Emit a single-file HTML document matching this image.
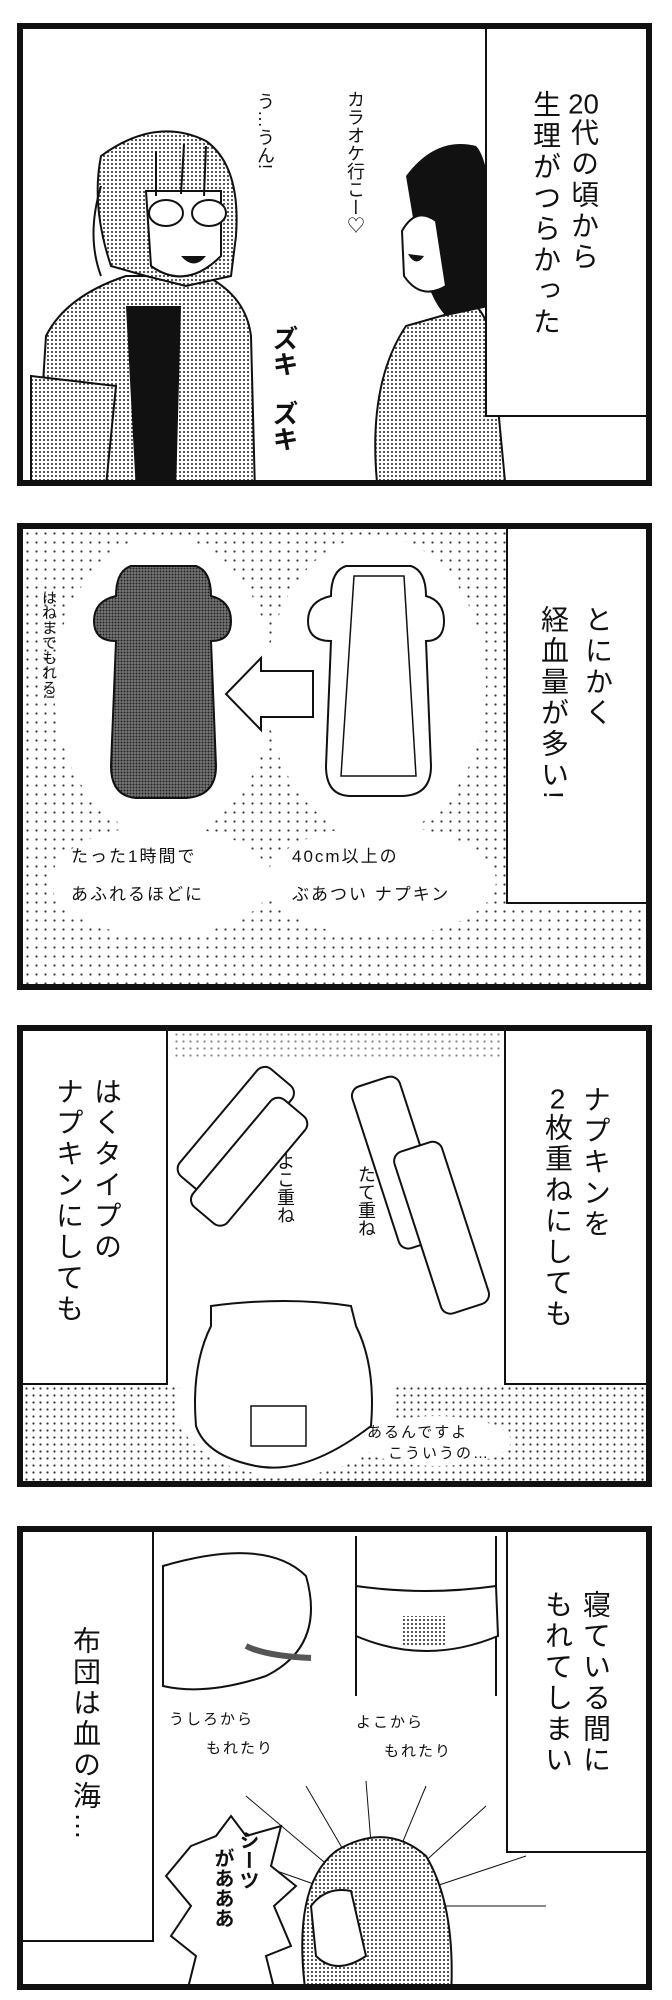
<!DOCTYPE html>
<html><head><meta charset="utf-8"><style>
body{margin:0;background:#fff;width:672px;height:2000px;position:relative;overflow:hidden;font-family:"Liberation Sans","Noto Sans CJK JP",sans-serif;}
.p{position:absolute;border:6px solid #111;box-sizing:border-box;background:#fff;overflow:hidden}
.f{position:absolute;border:6px solid #111;box-sizing:border-box;background:transparent}
.cap{position:absolute;border:2.5px solid #111;box-sizing:border-box;background:#fff}
.v{position:absolute;writing-mode:vertical-rl;font-size:28px;line-height:30px;letter-spacing:3px;color:#111;white-space:nowrap}
.s{position:absolute;font-size:17px;color:#111;white-space:nowrap;letter-spacing:2px}
.sv{position:absolute;writing-mode:vertical-rl;font-size:18px;color:#111;white-space:nowrap}
.dot{background-image:radial-gradient(circle,#333 0.9px,transparent 1.3px);background-size:7px 7px}
.tcy{text-combine-upright:all}
svg{position:absolute;left:0;top:0}
</style></head><body>
<svg width="672" height="2000" viewBox="0 0 672 2000" style="z-index:0">
<defs>
<pattern id="d" width="4" height="4" patternUnits="userSpaceOnUse"><rect width="4" height="4" fill="#fff"/><circle cx="2" cy="2" r="1" fill="#222"/></pattern>
<pattern id="dd" width="3" height="3" patternUnits="userSpaceOnUse"><rect width="3" height="3" fill="#777"/><circle cx="1.5" cy="1.5" r="1" fill="#222"/></pattern>
</defs>
</svg>

<!-- Panel 1 -->
<div class="p" style="left:17px;top:23px;width:635px;height:463px">
<svg width="635" height="463" viewBox="17 23 635 463">
<path d="M30 486 L40 330 Q60 290 120 270 L200 270 Q240 290 245 330 L249 486Z" fill="url(#d)" stroke="#111" stroke-width="2"/>
<path d="M120 300 L175 300 L170 486 L130 486Z" fill="#111"/>
<path d="M25 370 L110 380 L100 480 L25 480Z" fill="url(#d)" stroke="#111" stroke-width="2"/>
<path d="M95 150 Q150 110 200 135 Q235 160 230 230 L225 270 L180 280 L140 270 L105 260 Q85 200 95 150Z" fill="url(#d)" stroke="#111" stroke-width="2"/>
<path d="M140 185 L215 185 L215 250 Q180 285 145 260Z" fill="#fff" stroke="#111" stroke-width="2"/>
<ellipse cx="160" cy="207" rx="17" ry="13" fill="#fff" stroke="#111" stroke-width="2"/>
<ellipse cx="203" cy="207" rx="17" ry="13" fill="#fff" stroke="#111" stroke-width="2"/>
<path d="M175 250 Q188 265 200 250Z" fill="#111"/>
<line x1="150" y1="190" x2="150" y2="145" stroke="#111" stroke-width="2"/><line x1="175" y1="188" x2="178" y2="138" stroke="#111" stroke-width="2"/><line x1="198" y1="190" x2="200" y2="140" stroke="#111" stroke-width="2"/>
<path d="M95 180 Q80 230 95 270" fill="none" stroke="#111" stroke-width="2"/>
<path d="M372 486 Q360 380 400 320 L470 300 Q490 320 490 380 L500 486Z" fill="url(#d)" stroke="#111" stroke-width="2"/>
<path d="M400 170 Q430 130 470 140 Q490 160 487 300 L440 310 Q420 290 410 230Z" fill="#111"/>
<path d="M396 225 Q410 200 430 215 L440 280 Q415 295 398 270Z" fill="#fff" stroke="#111" stroke-width="2"/>
<path d="M402 248 Q410 262 418 250Z" fill="#111"/>
</svg>
</div>
<div class="cap" style="left:485px;top:23px;width:167px;height:394px"></div>
<div class="f" style="left:17px;top:23px;width:635px;height:463px"></div>
<div class="v" style="left:568px;top:90px"><span class="tcy">20</span>代の頃から</div>
<div class="v" style="left:530px;top:90px">生理がつらかった</div>
<div class="sv" style="left:342px;top:90px">カラオケ行こー♡</div>
<div class="sv" style="left:252px;top:92px">う…うん!</div>
<div class="sv" style="left:266px;top:325px;font-size:26px;font-weight:bold">ズキ</div>
<div class="sv" style="left:266px;top:400px;font-size:26px;font-weight:bold">ズキ</div>

<!-- Panel 2 -->
<div class="p dot" style="left:17px;top:523px;width:635px;height:467px;background-size:9px 9px">
<svg width="635" height="467" viewBox="17 523 635 467">
<ellipse cx="158" cy="680" rx="110" ry="150" fill="#fff"/>
<ellipse cx="370" cy="680" rx="110" ry="150" fill="#fff"/>
<ellipse cx="155" cy="875" rx="110" ry="55" fill="#fff"/>
<ellipse cx="375" cy="875" rx="115" ry="55" fill="#fff"/>
<path d="M125 560 L190 560 Q205 565 205 590 Q225 595 225 615 Q225 635 205 635 L210 760 Q210 790 180 792 L130 792 Q105 790 105 760 L110 635 Q88 635 88 615 Q88 595 110 590 Q110 565 125 560Z" fill="url(#dd)" stroke="#111" stroke-width="2"/>
<path d="M340 560 L405 560 Q420 565 420 590 Q438 595 438 615 Q438 635 420 635 L425 760 Q425 790 395 790 L345 790 Q320 790 320 760 L325 635 Q302 635 302 615 Q302 595 325 590 Q325 565 340 560Z" fill="#fff" stroke="#111" stroke-width="2"/>
<path d="M348 570 L398 570 L410 770 L335 770Z" fill="none" stroke="#111" stroke-width="1.5"/>
<path d="M307 665 L255 665 L255 652 L220 688 L255 724 L255 711 L307 711Z" fill="#fff" stroke="#111" stroke-width="2"/>
</svg>
</div>
<div class="cap" style="left:506px;top:523px;width:146px;height:381px"></div>
<div class="f" style="left:17px;top:523px;width:635px;height:467px"></div>
<div class="v" style="left:582px;top:605px">とにかく</div>
<div class="v" style="left:538px;top:605px">経血量が多い!</div>
<div class="sv" style="left:38px;top:590px;font-size:15px">はねまでもれる!</div>
<div class="s" style="left:71px;top:842px">たった1時間で</div>
<div class="s" style="left:71px;top:880px">あふれるほどに</div>
<div class="s" style="left:292px;top:842px">40cm以上の</div>
<div class="s" style="left:292px;top:880px">ぶあつい ナプキン</div>

<!-- Panel 3 -->
<div class="p" style="left:17px;top:1025px;width:635px;height:462px">
<div class="dot" style="position:absolute;left:0;top:354px;width:635px;height:110px"></div>
<div class="dot" style="position:absolute;left:150px;top:0;width:340px;height:30px;opacity:.6"></div>
<svg width="635" height="462" viewBox="17 1025 635 462">
<ellipse cx="280" cy="1400" rx="110" ry="70" fill="#fff"/>
<ellipse cx="430" cy="1435" rx="75" ry="25" fill="#fff"/>
<g transform="rotate(-50 240 1140)"><rect x="175" y="1100" width="140" height="45" rx="10" fill="#fff" stroke="#111" stroke-width="2"/><rect x="160" y="1130" width="140" height="45" rx="10" fill="#fff" stroke="#111" stroke-width="2"/></g>
<g transform="rotate(-18 420 1190)"><rect x="380" y="1065" width="50" height="170" rx="10" fill="#fff" stroke="#111" stroke-width="2"/><rect x="400" y="1140" width="50" height="170" rx="10" fill="#fff" stroke="#111" stroke-width="2"/></g>
<path d="M205 1300 Q280 1290 345 1300 L350 1320 Q370 1360 365 1420 Q300 1470 250 1460 Q200 1450 190 1420 Q185 1360 205 1320Z" fill="#fff" stroke="#111" stroke-width="2"/>
<rect x="245" y="1400" width="55" height="40" fill="#fff" stroke="#111" stroke-width="1.5"/>
</svg>
</div>
<div class="cap" style="left:17px;top:1025px;width:151px;height:360px"></div>
<div class="cap" style="left:504px;top:1025px;width:148px;height:360px"></div>
<div class="f" style="left:17px;top:1025px;width:635px;height:462px"></div>
<div class="v" style="left:91px;top:1077px">はくタイプの</div>
<div class="v" style="left:53px;top:1077px">ナプキンにしても</div>
<div class="v" style="left:580px;top:1085px">ナプキンを</div>
<div class="v" style="left:542px;top:1085px"><span class="tcy">2</span>枚重ねにしても</div>
<div class="sv" style="left:272px;top:1152px">よこ重ね</div>
<div class="sv" style="left:353px;top:1165px">たて重ね</div>
<div class="s" style="left:367px;top:1421px;font-size:15px">あるんですよ</div>
<div class="s" style="left:388px;top:1442px;font-size:15px">こういうの…</div>

<!-- Panel 4 -->
<div class="p" style="left:17px;top:1526px;width:635px;height:464px">
<svg width="635" height="464" viewBox="17 1526 635 464">
<g stroke="#111" stroke-width="1">
<line x1="370" y1="1900" x2="240" y2="1790"/><line x1="370" y1="1900" x2="300" y2="1780"/><line x1="370" y1="1900" x2="360" y2="1775"/><line x1="370" y1="1900" x2="420" y2="1780"/><line x1="370" y1="1900" x2="480" y2="1800"/><line x1="370" y1="1900" x2="520" y2="1850"/><line x1="370" y1="1900" x2="540" y2="1900"/><line x1="370" y1="1900" x2="200" y2="1840"/>
</g>
<path d="M157 1560 Q260 1530 300 1570 Q320 1640 260 1670 Q200 1690 157 1680Z" fill="#fff" stroke="#111" stroke-width="2"/>
<path d="M240 1640 Q260 1650 305 1652" fill="none" stroke="#555" stroke-width="6"/>
<path d="M350 1530 L350 1690 M490 1530 L490 1690" stroke="#111" stroke-width="2" fill="none"/>
<path d="M350 1580 Q420 1590 490 1580 L492 1630 Q420 1660 350 1630Z" fill="#fff" stroke="#111" stroke-width="2"/>
<rect x="397" y="1610" width="42" height="30" fill="url(#d)"/>
<path d="M185 1840 L210 1830 L225 1810 L240 1830 L275 1820 L265 1860 L290 1880 L268 1900 L285 1940 L260 1950 L270 1990 L180 1990 L190 1950 L165 1930 L185 1900 L160 1870Z" fill="#fff" stroke="#111" stroke-width="2"/>
<path d="M300 1990 Q285 1880 330 1845 Q380 1815 420 1850 Q450 1900 445 1990Z" fill="url(#d)" stroke="#111" stroke-width="2"/>
<path d="M305 1900 Q320 1880 345 1885 L360 1950 Q330 1970 310 1950Z" fill="#fff" stroke="#111" stroke-width="2"/>
</svg>
</div>
<div class="cap" style="left:17px;top:1526px;width:137px;height:416px"></div>
<div class="cap" style="left:506px;top:1526px;width:146px;height:327px"></div>
<div class="f" style="left:17px;top:1526px;width:635px;height:464px"></div>
<div class="v" style="left:70px;top:1626px">布団は血の海…</div>
<div class="v" style="left:580px;top:1590px">寝ている間に</div>
<div class="v" style="left:542px;top:1590px">もれてしまい</div>
<div class="s" style="left:169px;top:1708px;font-size:15px">うしろから</div>
<div class="s" style="left:206px;top:1737px;font-size:15px">もれたり</div>
<div class="s" style="left:356px;top:1711px;font-size:15px">よこから</div>
<div class="s" style="left:384px;top:1740px;font-size:15px">もれたり</div>
<div class="sv" style="left:233px;top:1830px;font-size:20px;font-weight:bold">シーツ</div>
<div class="sv" style="left:208px;top:1848px;font-size:20px;font-weight:bold">があああ</div>
</body></html>
